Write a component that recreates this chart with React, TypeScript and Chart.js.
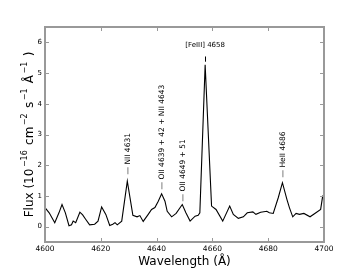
import React, { useEffect, useRef } from "react";
import { Chart, registerables } from "chart.js";

Chart.register(...registerables);

const wavelength = [
  4600.0, 4601.5, 4603.5, 4605.0, 4606.1, 4607.3, 4608.6, 4609.5, 4610.1, 4611.0,
  4612.5, 4613.5, 4614.5, 4616.0, 4617.8, 4619.0, 4620.3, 4621.8, 4623.2, 4624.3,
  4625.1, 4625.9, 4627.5, 4629.5, 4631.5, 4633.0, 4634.0, 4635.2, 4637.0, 4638.2,
  4639.4, 4640.6, 4641.8, 4643.0, 4643.8, 4645.4, 4647.0, 4649.2, 4650.5, 4652.0,
  4653.8, 4654.9, 4655.5, 4657.4, 4659.7, 4661.3, 4663.7, 4666.2, 4667.5, 4669.3,
  4671.1, 4672.5, 4674.5, 4675.6, 4677.3, 4679.5, 4680.4, 4681.8, 4683.6, 4685.1,
  4686.7, 4687.6, 4688.8, 4690.0, 4691.2, 4692.8, 4695.0, 4697.1, 4698.8, 4699.5,
  4700.0,
];
const flux = [
  0.62, 0.45, 0.13, 0.45, 0.72, 0.45, 0.03, 0.06, 0.18, 0.13,
  0.47, 0.38, 0.25, 0.06, 0.08, 0.18, 0.64, 0.40, 0.04, 0.08,
  0.13, 0.06, 0.18, 1.48, 0.37, 0.32, 0.36, 0.17, 0.40, 0.56,
  0.62, 0.83, 1.07, 0.83, 0.50, 0.32, 0.43, 0.72, 0.45, 0.18,
  0.34, 0.37, 0.45, 5.27, 0.67, 0.56, 0.18, 0.67, 0.40, 0.27,
  0.32, 0.45, 0.48, 0.40, 0.47, 0.50, 0.45, 0.43, 0.94, 1.43,
  0.89, 0.62, 0.32, 0.43, 0.40, 0.43, 0.32, 0.45, 0.56, 0.98,
  1.05,
];

const xTicks = [4600, 4620, 4640, 4660, 4680, 4700];
const yTicks = [0, 1, 2, 3, 4, 5, 6];

const lineLabels = ["— NII 4631", "— OII 4639 + 42 + NII 4643", "— OII 4649 + 51", "— HeII 4686"];
const lineLabelX = [4629.5, 4641.8, 4649.2, 4685.1];
const lineLabelY = [1.7, 1.21, 0.82, 1.6];

const peakLabel = "[FeIII] 4658";
const peakLabelX = 4657.4;
const peakLabelY = 5.86;
const peakDash = [5.37, 5.54];

const FONT = "'DejaVu Sans', 'Liberation Sans', sans-serif";

const decorPlugin = {
  id: "decor",
  afterDatasetsDraw(chart: any) {
    const { ctx, chartArea, scales } = chart;
    const xs = scales.x;
    const ys = scales.y;
    const { left, right, top, bottom } = chartArea;
    ctx.save();
    // inward ticks
    ctx.strokeStyle = "#999999";
    ctx.lineWidth = 1;
    const tl = 4;
    xTicks.forEach((v) => {
      const px = Math.round(xs.getPixelForValue(v)) + 0.5;
      ctx.beginPath();
      ctx.moveTo(px, bottom);
      ctx.lineTo(px, bottom - tl);
      ctx.moveTo(px, top);
      ctx.lineTo(px, top + tl);
      ctx.stroke();
    });
    yTicks.forEach((v) => {
      const py = Math.round(ys.getPixelForValue(v)) + 0.5;
      ctx.beginPath();
      ctx.moveTo(left, py);
      ctx.lineTo(left + tl, py);
      ctx.moveTo(right, py);
      ctx.lineTo(right - tl, py);
      ctx.stroke();
    });
    // frame
    ctx.lineWidth = 2;
    ctx.strokeRect(left, top, right - left, bottom - top);

    // rotated line labels
    ctx.fillStyle = "#000";
    ctx.font = `7.5px ${FONT}`;
    lineLabels.forEach((t, i) => {
      const px = xs.getPixelForValue(lineLabelX[i]);
      const py = ys.getPixelForValue(lineLabelY[i]);
      ctx.save();
      ctx.translate(px + 2.5, py);
      ctx.rotate(-Math.PI / 2);
      ctx.textAlign = "left";
      ctx.textBaseline = "alphabetic";
      ctx.fillText(t, 0, 0);
      ctx.restore();
    });
    // peak label
    ctx.font = `7px ${FONT}`;
    ctx.textAlign = "center";
    ctx.textBaseline = "alphabetic";
    const fx = xs.getPixelForValue(peakLabelX);
    ctx.fillText(peakLabel, fx, ys.getPixelForValue(peakLabelY));
    ctx.strokeStyle = "#000";
    ctx.lineWidth = 1;
    ctx.beginPath();
    ctx.moveTo(Math.round(fx) + 0.5, ys.getPixelForValue(peakDash[0]));
    ctx.lineTo(Math.round(fx) + 0.5, ys.getPixelForValue(peakDash[1]));
    ctx.stroke();

    // x title
    ctx.font = `12px ${FONT}`;
    ctx.textAlign = "center";
    ctx.fillText("Wavelength (Å)", (left + right) / 2, 265);

    // y title with superscripts
    const segs: [string, boolean][] = [
      ["Flux (10", false],
      ["−16", true],
      [" cm", false],
      ["−2", true],
      [" s", false],
      ["−1", true],
      [" Å", false],
      ["−1", true],
      [" )", false],
    ];
    const mainF = `12px ${FONT}`;
    const supF = `8px ${FONT}`;
    const gap = 1.5;
    let total = 0;
    const widths = segs.map(([s, sup]) => {
      ctx.font = sup ? supF : mainF;
      const w = ctx.measureText(s).width + (sup ? gap * 2 : 0);
      total += w;
      return w;
    });
    ctx.save();
    ctx.translate(32.5, (top + bottom) / 2);
    ctx.rotate(-Math.PI / 2);
    ctx.textAlign = "left";
    let cx = -total / 2;
    segs.forEach(([s, sup], i) => {
      ctx.font = sup ? supF : mainF;
      ctx.fillText(s, cx + (sup ? gap : 0), sup ? -6 : 0);
      cx += widths[i];
    });
    ctx.restore();
    ctx.restore();
  },
};

export default function App() {
  const ref = useRef<HTMLCanvasElement>(null);
  useEffect(() => {
    document.body.style.margin = "0";
    const data = wavelength.map((w, i) => ({ x: w, y: flux[i] }));
    const chart = new Chart(ref.current!, {
      type: "line",
      data: {
        datasets: [
          {
            data,
            borderColor: "#000",
            borderWidth: 1.1,
            pointRadius: 0,
            tension: 0,
            fill: false,
          },
        ],
      },
      options: {
        animation: false,
        responsive: false,
        maintainAspectRatio: false,
        layout: { padding: { left: 0, top: 27, right: 36, bottom: 0 } },
        plugins: { legend: { display: false }, tooltip: { enabled: false }, title: { display: false } },
        scales: {
          x: {
            type: "linear",
            min: 4600,
            max: 4700,
            afterFit: (s: any) => {
              s.height = 28;
            },
            afterBuildTicks: (s: any) => {
              s.ticks = xTicks.map((v) => ({ value: v }));
            },
            grid: { display: false, drawTicks: false },
            border: { display: false },
            ticks: {
              autoSkip: false,
              maxRotation: 0,
              padding: 3,
              color: "#000",
              font: { family: FONT, size: 7.5 },
              callback: (v: any) => String(v),
            },
          },
          y: {
            type: "linear",
            min: -0.5,
            max: 6.5,
            afterFit: (s: any) => {
              s.width = 45;
            },
            afterBuildTicks: (s: any) => {
              s.ticks = yTicks.map((v) => ({ value: v }));
            },
            grid: { display: false, drawTicks: false },
            border: { display: false },
            ticks: {
              padding: 3,
              color: "#000",
              font: { family: FONT, size: 7 },
              callback: (v: any) => String(v),
            },
          },
        },
      },
      plugins: [decorPlugin],
    });
    return () => chart.destroy();
  }, []);
  return (
    <div style={{ position: "absolute", left: 0, top: 0, width: 360, height: 270 }}>
      <canvas ref={ref} width={360} height={270} style={{ width: 360, height: 270 }} />
    </div>
  );
}
